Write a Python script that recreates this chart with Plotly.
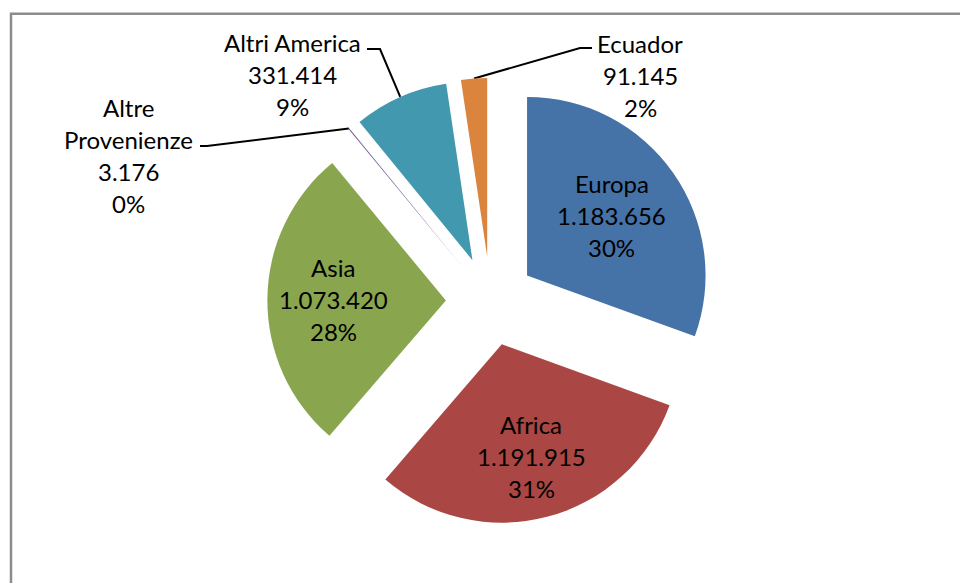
import numpy as np
import plotly.graph_objects as go

# ---------------- data ----------------
categories = ["Europa", "Africa", "Asia", "Altre Provenienze", "Altri America", "Ecuador"]
values = [1183656, 1191915, 1073420, 3176, 331414, 91145]
pct_labels = ["30%", "31%", "28%", "0%", "9%", "2%"]

# ---------------- style / layout parameters ----------------
colors = ["#4572A7", "#AA4643", "#89A54E", "#71588F", "#4198AF", "#DB843D"]
W, H = 960, 583
OFF = 0              # page margin removed via post_script
R = 178.5            # pie radius in px
PULL = 0.25          # explode fraction
CX, CY = 490.5, 301  # pie centre in window px
FONT = "Lato"
FS = 24
LINE_H = 32

# wrapped names for labels
label_lines_name = {3: ["Altre", "Provenienze"]}

# inside labels: radial fraction from slice vertex
inside_r = {0: 0.58, 1: 0.65, 2: 0.63}
# outside labels: (centre x, first-line y, text-end x, text-end y, elbow x)
outside = {
    3: (128.5, 107.5, 200, 146, 207),
    4: (292.0, 42.0, 367, 49, 380),
    5: (640.0, 43.0, 592, 48, 580),
}

box = 2 * R * (1 + PULL)
cxf, cyf = CX - OFF, CY - OFF
dom_y = [1 - (cyf + box / 2) / H, 1 - (cyf - box / 2) / H]
dom_x = [(cxf - 400) / W, (cxf + 400) / W]

fig = go.Figure()
fig.add_trace(go.Pie(
    labels=categories, values=values, sort=False, direction="clockwise",
    rotation=0, pull=[PULL] * len(values),
    marker=dict(colors=colors, line=dict(width=0)),
    textinfo="none", hoverinfo="label+value+percent", showlegend=False,
    domain=dict(x=dom_x, y=dom_y),
))

# geometry of slices
vals = np.array(values, dtype=float)
frac = vals / vals.sum()
ends = np.cumsum(frac) * 360
starts = ends - frac * 360
mids = np.radians((starts + ends) / 2)

def fmt(v):
    return f"{v:,}".replace(",", ".")

annotations = []
def add_lines(cx, y0, lines):
    for k, t in enumerate(lines):
        annotations.append(dict(
            x=cx, y=y0 + k * LINE_H, xref="x", yref="y", text=t, showarrow=False,
            xanchor="center", yanchor="middle",
            font=dict(family=FONT, size=FS, color="#000000")))

for i, cat in enumerate(categories):
    d = np.array([np.sin(mids[i]), -np.cos(mids[i])])
    vertex = np.array([CX, CY]) + PULL * R * d
    name_lines = label_lines_name.get(i, [cat])
    lines = name_lines + [fmt(values[i]), pct_labels[i]]
    if i in inside_r:
        c = vertex + inside_r[i] * R * d
        add_lines(c[0], c[1] - LINE_H * (len(lines) - 1) / 2, lines)
    else:
        cx, y0, tx, ty, ex = outside[i]
        add_lines(cx, y0, lines)
        arc = vertex + R * d
        fig.add_trace(go.Scatter(
            x=[tx, ex, arc[0]], y=[ty, ty, arc[1]], mode="lines",
            line=dict(color="#000000", width=2), hoverinfo="skip", showlegend=False))

fig.update_layout(
    width=W, height=H, margin=dict(l=0, r=0, t=0, b=0),
    paper_bgcolor="white", plot_bgcolor="rgba(0,0,0,0)",
    xaxis=dict(range=[OFF, W + OFF], visible=False, fixedrange=True),
    yaxis=dict(range=[H + OFF, OFF], visible=False, fixedrange=True),
    annotations=annotations,
    shapes=[dict(type="rect", xref="x", yref="y", x0=11, y0=13.8, x1=W + 60, y1=H + 60,
                 line=dict(color="#8c8c8c", width=2.5), fillcolor="rgba(0,0,0,0)", layer="below")],
    showlegend=False,
)

fig.write_html("out.html", config={"displayModeBar": False},
               post_script="document.body.style.margin='0';document.body.style.overflow='hidden';")
